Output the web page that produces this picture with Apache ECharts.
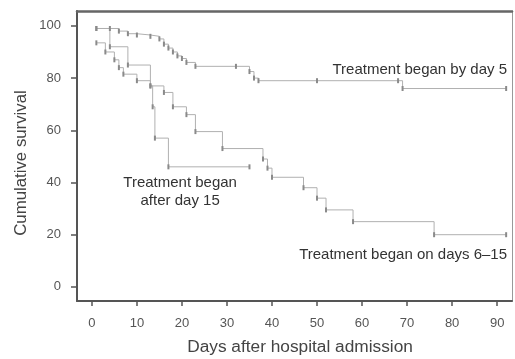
<!DOCTYPE html>
<html>
<head>
<meta charset="utf-8">
<script src="https://cdn.jsdelivr.net/npm/echarts@6/dist/echarts.min.js"></script>
<style>html,body{margin:0;padding:0;background:#fff;}#c{width:515px;height:359px;}</style>
</head>
<body>
<div id="c"></div>
<script>
// Kaplan-Meier step points: [day, cumulative survival %]
var byDay5 = [[1,99],[4,99],[6,98],[8,97],[10,96.5],[13,96],[15,95],[16,93],[17,91.5],[18,90],[19,88.5],[20,87.5],[21,86],[23,84.5],[32,84.5],[35,82.5],[36,80],[37,79],[50,79],[68,79],[69,76],[92,76]];
var days6to15 = [[1,93.5],[3,90],[5,87],[6,84],[7,81.5],[10,79],[13,77],[16,74.5],[18,69],[21,66],[23,59.5],[29,53],[38,49],[39,45.5],[40,42],[47,38],[50,34],[52,29.5],[58,25],[76,20],[92,20]];
var after15 = [[1,99],[4,92],[8,85],[13,77],[13.5,69],[14,57],[17,46],[35,46]];
var xTicks = [0,10,20,30,40,50,60,70,80,90];
var yTicks = [0,20,40,60,80,100];
var xTitle = 'Days after hospital admission';
var yTitle = 'Cumulative survival';
var annotations = [
  {text:'Treatment began by day 5', at:[92.2,83.1], align:'right'},
  {text:'Treatment began\nafter day 15', at:[19.6,36.4], align:'center'},
  {text:'Treatment began on days 6\u201315', at:[92.2,12.3], align:'right'}
];

var chart = echarts.init(document.getElementById('c'), null, {renderer:'canvas'});
var font = 'Liberation Sans, Arial, sans-serif';
function km(name, data){
  return {
    name:name, type:'line', step:'end', data:data,
    symbol:'rect', symbolSize:[2,5], showSymbol:true,
    itemStyle:{color:'#8a8a8a'},
    lineStyle:{color:'#b0b0b0', width:1},
    animation:false, z:3
  };
}
chart.setOption({
  animation:false,
  grid:{left:77, right:3, top:11, bottom:58, show:false},
  xAxis:[{
    type:'value', min:-3.3, max:93.3, position:'bottom',
    axisLine:{show:true, onZero:false, lineStyle:{color:'#555', width:2}},
    axisTick:{show:true, inside:false, length:5, customValues:xTicks, lineStyle:{color:'#555', width:1.5}},
    axisLabel:{customValues:xTicks, fontFamily:font, fontSize:13, color:'#555', margin:16},
    splitLine:{show:false}
  },{
    type:'value', min:-3.3, max:93.3, position:'top',
    axisLine:{show:true, onZero:false, lineStyle:{color:'#666', width:2.5}},
    axisTick:{show:false}, axisLabel:{show:false}, splitLine:{show:false}
  }],
  yAxis:[{
    type:'value', min:-5.4, max:105.7, position:'left',
    axisLine:{show:true, onZero:false, lineStyle:{color:'#555', width:2}},
    axisTick:{show:true, inside:false, length:6, customValues:yTicks, lineStyle:{color:'#555', width:1.5}},
    axisLabel:{customValues:yTicks, fontFamily:font, fontSize:13, color:'#555', margin:16},
    splitLine:{show:false}
  },{
    type:'value', min:-5.4, max:105.7, position:'right',
    axisLine:{show:true, onZero:false, lineStyle:{color:'#999', width:1}},
    axisTick:{show:false}, axisLabel:{show:false}, splitLine:{show:false}
  }],
  series:[km('by day 5', byDay5), km('days 6-15', days6to15), km('after day 15', after15)]
});
var g = annotations.map(function(a){
  var p = chart.convertToPixel({gridIndex:0}, a.at);
  return {type:'text', x:p[0], y:p[1], z:10,
    style:{text:a.text, fill:'#333', font:'15px ' + font, align:a.align, verticalAlign:'middle', lineHeight:18}};
});
g.push({type:'text', x:300, y:348, z:10, scaleX:1.08,
  style:{text:xTitle, fill:'#444', font:'16px ' + font, align:'center', verticalAlign:'middle'}});
g.push({type:'text', x:22, y:163, z:10, rotation:Math.PI/2, scaleX:1.05,
  style:{text:yTitle, fill:'#444', font:'16px ' + font, align:'center', verticalAlign:'middle'}});
chart.setOption({graphic:g});
</script>
</body>
</html>
